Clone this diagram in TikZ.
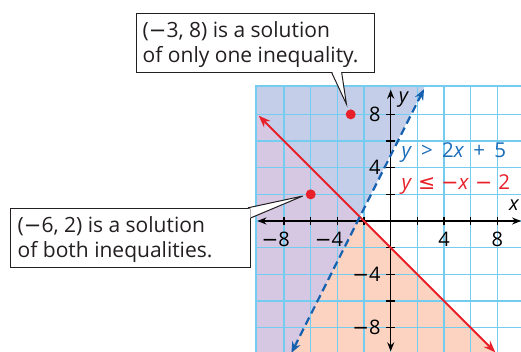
\documentclass[tikz,border=0pt]{standalone}
\usepackage{fontspec}
\setmainfont{Open Sans}
\newfontfamily\symf{DejaVu Sans}
\newcommand{\mn}{{\symf −}}
\usetikzlibrary{arrows.meta,calc}
\definecolor{bluefill}{RGB}{197,206,232}
\definecolor{purplefill}{RGB}{214,200,226}
\definecolor{salmonfill}{RGB}{252,211,192}
\definecolor{gridc}{RGB}{116,204,240}
\definecolor{redc}{RGB}{232,32,42}
\definecolor{bluec}{RGB}{22,96,176}
\definecolor{bluetext}{RGB}{26,109,184}
\definecolor{textc}{RGB}{35,31,32}
\begin{document}
\begin{tikzpicture}[x=1pt,y=-1pt,
  gridline/.style={draw=gridc,line width=1.3pt},
  axisline/.style={draw=black,line width=1.4pt},
  ticks/.style={draw=black,line width=1.2pt},
  redline/.style={draw=redc,line width=2pt,{Stealth[length=12pt,width=9pt]}-{Stealth[length=12pt,width=9pt]}},
  blueline/.style={draw=bluec,line width=2.2pt,dash pattern=on 8pt off 4.5pt,{Stealth[length=11pt,width=9pt]}-{Stealth[length=11pt,width=9pt]}},
  dot/.style={circle,fill=redc,inner sep=0pt,minimum size=10pt},
  numlab/.style={inner sep=0pt,font=\fontsize{20}{22}\selectfont},
  eqlab/.style={inner sep=0pt,anchor=west,font=\fontsize{20.5}{22}\selectfont},
  callout/.style={draw=textc,fill=white,line width=1pt,inner sep=0pt},
  callouttext/.style={text=textc,align=left,inner sep=0pt,anchor=north west,
    font=\fontsize{21}{25}\selectfont},
  pointer/.style={draw=textc,line width=1pt}
]
\useasboundingbox (0,0) rectangle (521,352);
% shaded regions and grid
\begin{scope}
  \clip (255.7,85.7) rectangle (521,352);
  \begin{scope}[shift={(390.7,221)},x=13.33pt,y=13.33pt]
    \fill[bluefill] (-10.5,10.5) -- (2.75,10.5) -- (-7.75,-10.5) -- (-10.5,-10.5) -- cycle;
    \fill[salmonfill] (-10.5,8.5) -- (8.5,-10.5) -- (-10.5,-10.5) -- cycle;
    \fill[purplefill] (-10.5,8.5) -- (-2.3333,0.3333) -- (-7.75,-10.5) -- (-10.5,-10.5) -- cycle;
    \foreach \k in {-8,-6,...,8} {
      \draw[gridline] (\k,-10.5) -- (\k,10.5);
      \draw[gridline] (-10.5,\k) -- (10.5,\k);
    }
  \end{scope}
\end{scope}
\draw[gridline,line width=2pt] (255.7,352) |- (521,85.7);
\begin{scope}[shift={(390.7,221)},x=13.33pt,y=13.33pt]
  % axes
  \draw[axisline,{Stealth[length=9pt,width=7pt]}-{Stealth[length=9pt,width=7pt]}] (-10,0) -- (9.78,0);
  \draw[axisline,{Stealth[length=9pt,width=7pt]}-{Stealth[length=9pt,width=7pt]}] (0,-9.78) -- (0,9.85);
  \foreach \k in {-8,-6,-4,-2,2,4,6,8} {
    \draw[ticks] (\k,-0.32) -- (\k,0.32);
    \draw[ticks] (-0.32,\k) -- (0.32,\k);
  }
  % axis labels
  \foreach \k/\t in {-8/{\mn8},-4/{\mn4},4/{4},8/{8}} {
    \node[numlab,anchor=base east] at (\k+0.45,-1.95) {\t};
    \node[numlab,anchor=base east] at (-0.75,\k-0.53) {\t};
  }
  \node[numlab,anchor=center] (xl) at (9.27,1.2) {\textit{x}};
  \node[numlab,anchor=center] (yl) at (1.0,9.13) {\textit{y}};
  % lines
  \coordinate (r1) at (-9.9,7.9);
  \coordinate (r2) at (7.85,-9.85);
  \coordinate (b1) at (-7.45,-9.9);
  \coordinate (b2) at (2.5,9.9);
  \draw[redline] (r1) -- (r2);
  \draw[blueline] (b1) -- (b2);
  % equations
  \node[eqlab,text=bluetext] (eq1) at (0.8,5.1) {\textit{y}\hspace{0.45em}>\hspace{0.45em}2\textit{x}\hspace{0.45em}+\hspace{0.45em}5};
  \node[eqlab,text=redc] (eq2) at (0.8,2.7) {\textit{y}\hspace{0.3em}{\symf ≤}\hspace{0.3em}\mn\textit{x}\hspace{0.3em}\mn\hspace{0.3em}2};
  % points
  \node[dot] (p1) at (-3,8) {};
  \node[dot] (p2) at (-6,2) {};
\end{scope}
% callouts
\node[callout,minimum width=238.3pt,minimum height=58.4pt,anchor=north west] (box1) at (135.7,13.3) {};
\node[callouttext] (txt1) at (142.5,21.5) {(\mn3, 8) is a solution\\of only one inequality.};
\node[callout,minimum width=240pt,minimum height=59pt,anchor=north west] (box2) at (10,207.8) {};
\node[callouttext] (txt2) at (17.5,216.5) {(\mn6, 2) is a solution\\of both inequalities.};
\coordinate (t1) at ($(p1)+(-4.3,-10.3)$);
\coordinate (a1) at ($(box1.south west)+(196,0)$);
\coordinate (c1) at ($(box1.south west)+(206,0)$);
\fill[white] ($(a1)+(0.6,-0.6)$) -- (t1) -- ($(c1)+(-0.6,-0.6)$) -- cycle;
\draw[pointer] (a1) -- (t1) -- (c1);
\coordinate (t2) at ($(p2)+(-8,1.7)$);
\coordinate (a2) at ($(box2.north east)+(-3,0)$);
\coordinate (c2) at ($(box2.north east)+(0,10)$);
\fill[white] ($(a2)+(0,0.6)$) -- (t2) -- ($(c2)+(-0.6,0)$) -- ($(box2.north east)+(-0.6,0.6)$) -- cycle;
\draw[pointer] (a2) -- (t2) -- (c2);
\end{tikzpicture}
\end{document}
